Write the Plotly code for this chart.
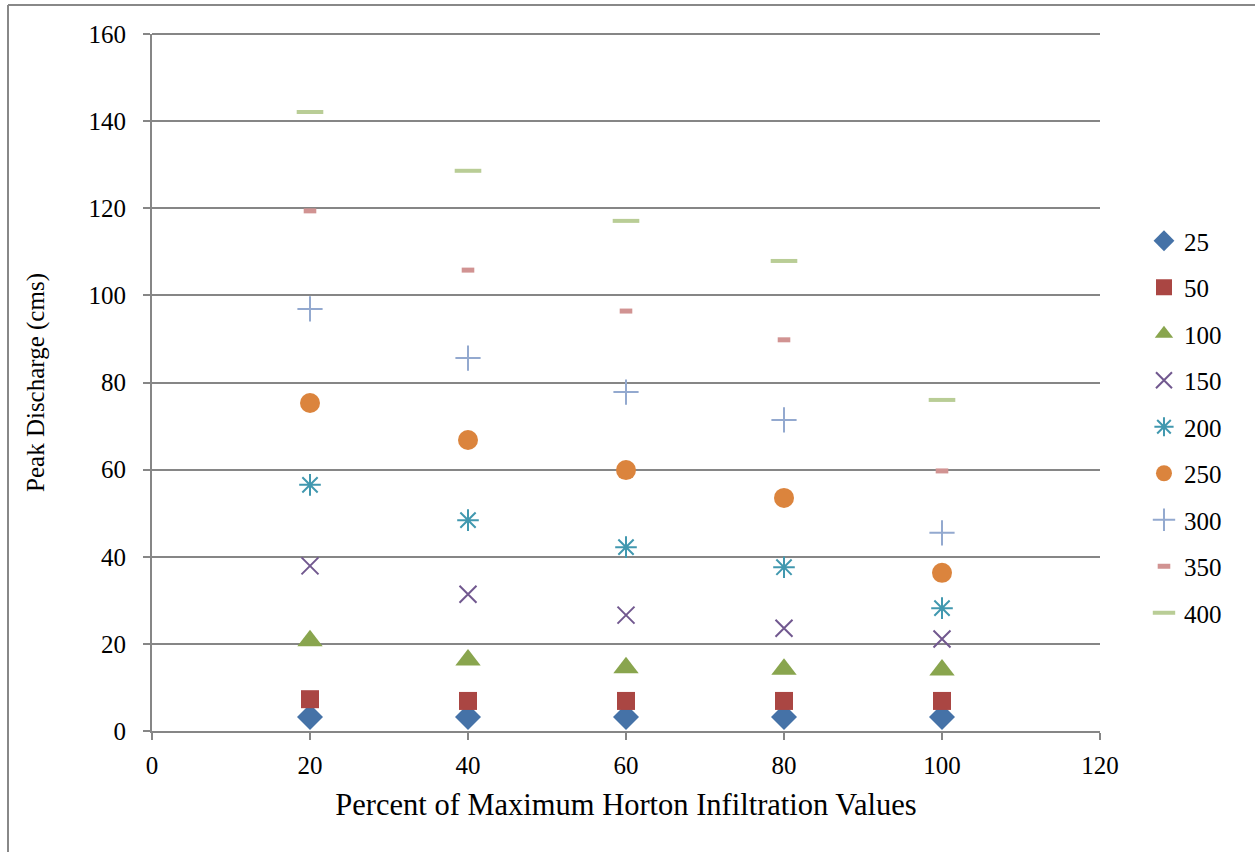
import plotly.graph_objects as go

x_vals = [20, 40, 60, 80, 100]
series_names = ["25", "50", "100", "150", "200", "250", "300", "350", "400"]
s25 = [3.2, 3.2, 3.2, 3.2, 3.2]
s50 = [7.3, 6.9, 6.9, 6.9, 6.9]
s100 = [20.7, 16.3, 14.5, 14.2, 14.0]
s150 = [37.9, 31.4, 26.6, 23.6, 21.1]
s200 = [56.5, 48.4, 42.2, 37.6, 28.2]
s250 = [75.3, 66.8, 59.9, 53.5, 36.3]
s300 = [96.9, 85.6, 77.8, 71.4, 45.5]
s350 = [119.4, 105.8, 96.4, 89.8, 59.7]
s400 = [142.1, 128.6, 117.1, 107.9, 76.0]
series_values = [s25, s50, s100, s150, s200, s250, s300, s350, s400]

colors = ["#4572A7", "#AA4643", "#89A54E", "#71588F", "#4198AF",
          "#DB843D", "#93A9CF", "#D19392", "#B9CD96"]
markers = [
    dict(symbol="diamond", size=20),
    dict(symbol="square", size=18),
    dict(symbol="triangle-up", size=22),
    dict(symbol="x-thin", size=17, line=dict(width=2)),
    dict(symbol="asterisk", size=18, line=dict(width=2)),
    dict(symbol="circle", size=20),
    dict(symbol="cross-thin", size=18, line=dict(width=2)),
    dict(symbol="line-ew", size=9, line=dict(width=5)),
    dict(symbol="line-ew", size=19, line=dict(width=4)),
]

fig = go.Figure()
for name, vals, c, m in zip(series_names, series_values, colors, markers):
    mk = dict(m)
    mk["color"] = c
    if "line" in mk:
        mk["line"] = dict(mk["line"], color=c)
    else:
        mk["line"] = dict(width=0)
    fig.add_trace(go.Scatter(x=x_vals, y=vals, mode="markers", name=name,
                             marker=mk, legendgroup=name))

serif = "Liberation Serif, DejaVu Serif, serif"
grid = "#868686"
fig.update_layout(
    width=1255, height=852,
    margin=dict(l=152, r=155, t=34, b=121),
    plot_bgcolor="white", paper_bgcolor="white",
    font=dict(family=serif, size=25, color="black"),
    legend=dict(x=1.0464, y=0.736, xanchor="left", yanchor="top",
                font=dict(size=25, family=serif), tracegroupgap=11,
                itemwidth=30, bgcolor="rgba(0,0,0,0)"),
    xaxis=dict(range=[0, 120], dtick=20, showgrid=False, showline=True,
               linecolor=grid, linewidth=2, ticks="outside", ticklen=7,
               tickcolor=grid, tickwidth=2, zeroline=False,
               ticklabelstandoff=4,
               title=dict(text="Percent of Maximum Horton Infiltration Values",
                          font=dict(size=30.5), standoff=16),
               tickfont=dict(size=25)),
    yaxis=dict(range=[0, 160], dtick=20, showgrid=True, gridcolor=grid,
               gridwidth=2, showline=True, linecolor=grid, linewidth=2,
               ticks="outside", ticklen=7, tickcolor=grid, tickwidth=2,
               zeroline=False, ticklabelstandoff=12,
               title=dict(text="Peak Discharge (cms)",
                          font=dict(size=25), standoff=37),
               tickfont=dict(size=25)),
    shapes=[
        dict(type="line", xref="paper", yref="paper", x0=0, x1=1,
             y0=1, y1=1, line=dict(color=grid, width=2)),
        dict(type="line", xref="paper", yref="paper", x0=-0.1519, x1=-0.1519,
             y0=1.0416, y1=-0.18, line=dict(color="#888888", width=2)),
        dict(type="line", xref="paper", yref="paper", x0=-0.1519, x1=1.17,
             y0=1.0416, y1=1.0416, line=dict(color="#888888", width=2)),
    ],
)
fig.write_html("out.html", post_script="document.body.style.margin='0';",
               config={"displayModeBar": False})
